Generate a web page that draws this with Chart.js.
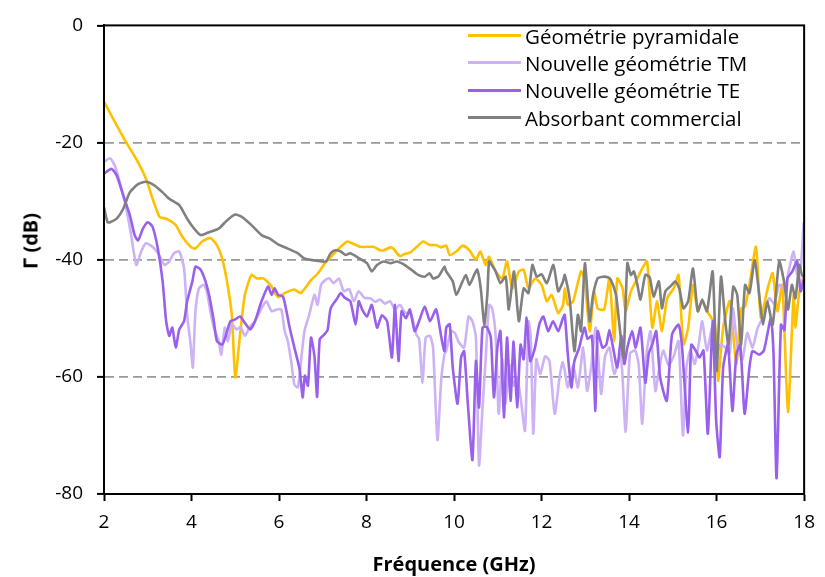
<!DOCTYPE html>
<html>
<head>
<meta charset="utf-8">
<script src="https://cdn.jsdelivr.net/npm/chart.js@4.4.1/dist/chart.umd.min.js"></script>
<style>
  body { margin: 0; background: #fff; }
  #wrap { position: relative; width: 825px; height: 577px; }
  #legend { position: absolute; left: 468px; top: 22px; font-family: 'Open Sans', sans-serif; font-size: 20.5px; color: #000; }
  .row { display: flex; align-items: center; height: 27.3px; white-space: nowrap; }
  .swatch { width: 53px; height: 3px; margin-right: 4px; }
  #ytitle { position: absolute; left: 30px; top: 241px; transform: translate(-50%, -50%) rotate(-90deg);
            font-family: 'Open Sans', sans-serif; font-size: 20px; font-weight: bold; white-space: nowrap; color: #000; }
</style>
</head>
<body>
<div id="wrap">
  <canvas id="chart" width="825" height="577"></canvas>
  <div id="legend"></div>
  <div id="ytitle">Γ (dB)</div>
</div>
<script>
// axis ticks
const xTicks = [2, 4, 6, 8, 10, 12, 14, 16, 18];
const yTicks = [0, -20, -40, -60, -80];

const seriesNames = ['Géométrie pyramidale', 'Nouvelle géométrie TM', 'Nouvelle géométrie TE', 'Absorbant commercial'];
const seriesColors = ['#FFC000', '#CDB3F5', '#9960EC', '#808080'];

// Géométrie pyramidale (GHz / dB)
const pyrFreq = [2.0, 2.25, 2.51, 2.75, 2.96, 3.11, 3.27, 3.42, 3.64, 3.79, 3.98, 4.09, 4.24, 4.43, 4.58, 4.70, 4.81, 4.92, 5.0, 5.11,
  5.22, 5.37, 5.49, 5.64, 5.83, 5.98, 6.13, 6.35, 6.50, 6.73, 6.88, 7.03, 7.15, 7.26, 7.41, 7.56, 7.7, 7.86, 8.01, 8.16,
  8.31, 8.39, 8.54, 8.61, 8.76, 8.88, 8.99, 9.15, 9.29, 9.45, 9.59, 9.70, 9.82, 9.9, 10.05, 10.2, 10.35, 10.5, 10.6, 10.72,
  10.8, 10.95, 11.1, 11.21, 11.33, 11.48, 11.59, 11.7, 11.85, 12.0, 12.12, 12.23, 12.38, 12.49, 12.53, 12.6, 12.72, 12.9, 12.98, 13.1,
  13.2, 13.28, 13.43, 13.55, 13.66, 13.73, 13.85, 13.92, 14.04, 14.19, 14.3, 14.41, 14.53, 14.64, 14.75, 14.87, 15.02, 15.13, 15.24, 15.35,
  15.46, 15.57, 15.67, 15.8, 15.96, 16.03, 16.15, 16.3, 16.45, 16.56, 16.65, 16.75, 16.9, 17.01, 17.16, 17.28, 17.39, 17.5, 17.63, 17.76,
  17.8, 17.88, 17.97, 18.0];
const pyrGamma = [-13, -16.5, -20, -23, -26.2, -29.6, -32.7, -33, -34.1, -36.1, -37.8, -38.1, -36.9, -36.3, -37.5, -39.8, -43.7, -49.4, -60.1, -52.7,
  -46, -42.6, -43.2, -43.2, -44.6, -46.4, -45.7, -45.1, -45.7, -43.5, -42.4, -40.8, -39.8, -38.9, -37.8, -36.9, -37.3, -37.8, -37.8, -37.8,
  -38.4, -38.4, -37.9, -38.1, -39.4, -39, -38.8, -37.8, -36.9, -37.5, -37.5, -37.9, -37.6, -39.2, -38.6, -37.6, -38.4, -40, -38.6, -40.9,
  -39.5, -42, -43.2, -40.3, -44.9, -42, -41.7, -44.9, -43.2, -44.3, -47.1, -46, -49.1, -47.7, -44.9, -47.7, -47.1, -42, -43.2, -52.2,
  -45.4, -48.3, -48.5, -43.2, -53.9, -43.2, -44.9, -48.8, -45.4, -43.2, -41.5, -40.3, -51.6, -47.1, -52.2, -46.6, -44.9, -42.6, -54.5, -51.6,
  -44.3, -48.8, -47.1, -49, -51.1, -60.7, -51.6, -47.1, -57.8, -48.3, -48, -44.3, -37.8, -49.9, -45.1, -42.3, -48.8, -44.3, -66, -46,
  -51.6, -46, -43.2, -44];

// Nouvelle géométrie TM
const tmFreq = [2.0, 2.14, 2.25, 2.36, 2.51, 2.62, 2.74, 2.85, 2.96, 3.11, 3.26, 3.38, 3.49, 3.6, 3.72, 3.83, 3.9, 3.98, 4.03, 4.09,
  4.17, 4.28, 4.35, 4.43, 4.51, 4.62, 4.68, 4.76, 4.83, 4.92, 5.03, 5.12, 5.22, 5.33, 5.45, 5.6, 5.71, 5.83, 5.95, 6.05,
  6.13, 6.2, 6.28, 6.35, 6.43, 6.5, 6.58, 6.69, 6.81, 6.88, 6.96, 7.07, 7.15, 7.25, 7.37, 7.48, 7.6, 7.71, 7.82, 7.95,
  8.09, 8.2, 8.31, 8.42, 8.54, 8.65, 8.76, 8.88, 9.02, 9.14, 9.2, 9.28, 9.35, 9.45, 9.52, 9.62, 9.71, 9.78, 9.82, 9.93,
  10.02, 10.1, 10.23, 10.33, 10.42, 10.5, 10.57, 10.65, 10.72, 10.8, 10.87, 10.95, 11.02, 11.1, 11.17, 11.27, 11.36, 11.44, 11.52, 11.62,
  11.7, 11.75, 11.81, 11.88, 11.97, 12.08, 12.18, 12.3, 12.41, 12.48, 12.53, 12.6, 12.72, 12.83, 12.95, 13.04, 13.13, 13.24, 13.36, 13.45,
  13.55, 13.66, 13.81, 13.92, 14.02, 14.14, 14.22, 14.3, 14.4, 14.49, 14.6, 14.68, 14.78, 14.9, 15.02, 15.13, 15.23, 15.31, 15.4, 15.5,
  15.6, 15.67, 15.78, 15.9, 15.99, 16.08, 16.2, 16.3, 16.37, 16.48, 16.59, 16.7, 16.82, 16.94, 17.09, 17.2, 17.32, 17.43, 17.55, 17.66,
  17.76, 17.84, 17.92, 17.99];
const tmGamma = [-23.3, -22.7, -24, -26.8, -31.3, -35.8, -40.9, -38.6, -37.2, -37.8, -39.2, -40.9, -40.3, -38.9, -38.6, -41.5, -49.4, -54.5, -58.4, -48.8,
  -44.9, -44.3, -45.4, -48.8, -51.6, -53.9, -56.2, -51.6, -53.9, -51.1, -51.9, -51.5, -53, -51.5, -50.5, -48.3, -47.1, -48.8, -48.5, -48.5,
  -52.2, -53.9, -57.5, -61.3, -61.8, -57.5, -52.2, -49.4, -46, -47.7, -44.3, -43.4, -43.2, -44, -43.2, -45.4, -45, -47.1, -45.4, -46.5,
  -46.6, -47.2, -46.8, -47.5, -47.1, -48.5, -47.7, -49, -49.4, -52.8, -53.5, -61, -53.3, -53, -55, -70.8, -60.1, -56.2, -55.6, -52.2,
  -52.5, -54, -55, -49.7, -50.5, -53.3, -75.1, -65.2, -57.3, -47.7, -48.3, -53, -66.3, -57, -64.6, -58, -61.5, -60.1, -63.5, -69.2,
  -50.5, -53, -69.7, -57, -59.5, -56.5, -57.3, -66.3, -60.1, -57.5, -59, -61.8, -58, -61.8, -55, -62.4, -58.5, -51.6, -62.9, -56.5,
  -55, -59.5, -56.2, -69.4, -56, -55.5, -58, -68, -56, -52.2, -62.4, -59, -55.5, -58, -56.5, -53.9, -70, -58.4, -55.5, -57.8,
  -54, -50.5, -55.5, -51.6, -57.3, -54.5, -55, -56, -48.3, -55, -57, -52.5, -55, -51.6, -49.4, -46.6, -47.5, -44.3, -45, -41.5,
  -38.6, -42.5, -41.5, -33.6];

// Nouvelle géométrie TE
const teFreq = [2.0, 2.17, 2.29, 2.44, 2.59, 2.7, 2.78, 2.89, 3.0, 3.11, 3.23, 3.34, 3.42, 3.49, 3.56, 3.64, 3.72, 3.83, 3.9, 4.02,
  4.09, 4.21, 4.32, 4.4, 4.51, 4.58, 4.7, 4.77, 4.89, 5.0, 5.11, 5.22, 5.34, 5.45, 5.6, 5.75, 5.83, 5.9, 5.98, 6.09,
  6.17, 6.24, 6.35, 6.47, 6.54, 6.59, 6.66, 6.73, 6.81, 6.87, 6.93, 7.03, 7.11, 7.18, 7.33, 7.41, 7.5, 7.63, 7.75, 7.82,
  7.9, 8.01, 8.12, 8.24, 8.35, 8.47, 8.58, 8.65, 8.73, 8.8, 8.9, 8.99, 9.1, 9.2, 9.33, 9.45, 9.59, 9.71, 9.78, 9.82,
  9.9, 9.97, 10.08, 10.16, 10.23, 10.31, 10.42, 10.5, 10.57, 10.65, 10.75, 10.84, 10.91, 10.99, 11.06, 11.14, 11.21, 11.29, 11.36, 11.44,
  11.52, 11.59, 11.66, 11.74, 11.85, 11.95, 12.04, 12.15, 12.26, 12.38, 12.49, 12.53, 12.6, 12.68, 12.75, 12.86, 12.98, 13.05, 13.15, 13.23,
  13.28, 13.39, 13.48, 13.55, 13.62, 13.73, 13.82, 13.89, 13.96, 14.07, 14.15, 14.26, 14.37, 14.45, 14.53, 14.62, 14.71, 14.86, 14.98, 15.13,
  15.21, 15.35, 15.42, 15.52, 15.61, 15.7, 15.8, 15.91, 15.99, 16.07, 16.15, 16.26, 16.36, 16.45, 16.54, 16.64, 16.75, 16.82, 16.97, 17.08,
  17.24, 17.3, 17.37, 17.47, 17.55, 17.62, 17.73, 17.84, 17.92, 18.0];
const teGamma = [-25.3, -24.5, -25.6, -29, -32.4, -35.8, -36.7, -34.7, -33.6, -34.4, -38.1, -43.7, -50.5, -53, -51.6, -55, -51.9, -50.5, -47.1, -43.7,
  -41.2, -41.7, -43.7, -46, -50.5, -53.9, -54.5, -53.3, -50.5, -50.2, -49.7, -50.8, -51.9, -50.5, -47.1, -44.6, -46, -44.9, -46, -46.3,
  -48.8, -51.5, -55, -58.7, -63.5, -59.8, -61.5, -53.3, -56.5, -63.4, -53.6, -52.8, -52, -48.3, -46.6, -45.7, -46.5, -47.1, -51.1, -47.1,
  -48.5, -49.7, -47.7, -51.6, -49.5, -50.5, -56.7, -47.7, -57.3, -48.8, -50, -48.5, -52.2, -50.5, -48, -50.5, -48.5, -53.3, -55.6, -51.6,
  -51, -58.4, -64.6, -56.7, -55.6, -64.1, -74.2, -57.3, -65.2, -51.6, -51.5, -53.3, -63.5, -55, -52.2, -66.9, -53.3, -64.1, -54, -65.2,
  -54.5, -57, -49.9, -57.3, -55, -51, -49.7, -52.2, -50.5, -52.2, -49.9, -49.4, -56.2, -61.8, -57.3, -55, -51.6, -53.5, -53, -65.8,
  -52.2, -55, -54.5, -52, -54.5, -58.4, -53, -57.8, -55, -52.2, -55, -51.6, -61, -56, -54.5, -52.2, -60.1, -64.1, -52.8, -51.1,
  -55, -69.5, -54.5, -55.5, -56.7, -55.5, -69.7, -50.5, -67.5, -73.7, -58.4, -54.5, -65.8, -56.2, -54.5, -66.3, -58.4, -55.6, -56.2, -55.5,
  -50, -56, -77.3, -51.1, -52, -43.2, -42, -40.3, -45.4, -43.2];

// Absorbant commercial
const comFreq = [2.0, 2.08, 2.14, 2.29, 2.44, 2.59, 2.78, 2.96, 3.15, 3.34, 3.49, 3.72, 3.9, 4.06, 4.21, 4.4, 4.62, 4.81, 5.0, 5.15,
  5.37, 5.6, 5.79, 5.98, 6.2, 6.43, 6.58, 6.88, 7.07, 7.18, 7.29, 7.41, 7.52, 7.63, 7.86, 8.01, 8.12, 8.24, 8.39, 8.55,
  8.69, 8.85, 9.02, 9.18, 9.33, 9.44, 9.52, 9.65, 9.78, 9.82, 9.97, 10.05, 10.16, 10.27, 10.35, 10.46, 10.53, 10.61, 10.69, 10.76,
  10.8, 10.87, 10.95, 11.06, 11.18, 11.25, 11.37, 11.48, 11.59, 11.7, 11.79, 11.89, 12.0, 12.12, 12.27, 12.38, 12.49, 12.53, 12.64, 12.75,
  12.83, 12.9, 12.99, 13.1, 13.17, 13.28, 13.4, 13.51, 13.58, 13.7, 13.77, 13.87, 13.96, 14.04, 14.11, 14.19, 14.26, 14.37, 14.47, 14.56,
  14.68, 14.75, 14.83, 14.95, 15.06, 15.15, 15.24, 15.35, 15.46, 15.57, 15.67, 15.78, 15.91, 16.0, 16.1, 16.19, 16.27, 16.38, 16.47, 16.56,
  16.65, 16.75, 16.87, 16.99, 17.06, 17.16, 17.28, 17.43, 17.54, 17.63, 17.72, 17.8, 17.89, 17.95, 18.0];
const comGamma = [-31, -33.6, -33.6, -33, -31.3, -28.5, -27.1, -26.7, -27.3, -28.5, -29.6, -30.7, -33, -34.7, -35.8, -35.3, -34.7, -33.3, -32.3, -32.7,
  -34.1, -35.8, -36.4, -37.4, -38.1, -38.9, -39.8, -40.2, -40.3, -38.9, -38.4, -38.6, -39.2, -38.9, -39.9, -40.6, -42, -40.9, -40.3, -40.6,
  -40.3, -40.8, -41.7, -42.6, -42.9, -42.3, -43.2, -42.8, -41.2, -42, -43.7, -46, -44.3, -42.6, -44.3, -42.6, -41.7, -44.9, -51.1, -46,
  -40.3, -41, -42, -44, -42.9, -48.5, -42, -50.5, -44.9, -45.7, -40.9, -42.9, -42.5, -44, -40.9, -45.4, -43.7, -42.6, -46.6, -55.6,
  -49.4, -52.2, -40.6, -50.5, -46.3, -43.2, -42.9, -43, -43.4, -46, -50.5, -56.7, -40.6, -42.6, -42, -44.3, -46.8, -42.6, -43, -46.3,
  -43.7, -48.3, -45.4, -44.5, -43.7, -45, -48.3, -47.1, -41.5, -48.8, -46.8, -48.8, -42, -59, -42.9, -49.9, -54.5, -44.6, -46, -54.5,
  -44.3, -45.7, -40.1, -47.1, -51.1, -47.1, -51.1, -40.3, -43.7, -48.5, -44.3, -46.6, -40.9, -42.6, -43];

const freqs = [pyrFreq, tmFreq, teFreq, comFreq];
const gammas = [pyrGamma, tmGamma, teGamma, comGamma];
// later series sit on top, as in the original
const drawOrder = [3, 2, 1, 0];

const datasets = seriesNames.map((name, i) => ({
  label: name,
  data: freqs[i].map((f, j) => ({ x: f, y: gammas[i][j] })),
  borderColor: seriesColors[i],
  backgroundColor: seriesColors[i],
  borderWidth: 2.6,
  pointRadius: 0,
  tension: 0.2,
  fill: false,
  order: drawOrder[i]
}));

// black frame around the plot area
const frame = {
  id: 'frame',
  afterDatasetsDraw(chart) {
    const a = chart.chartArea;
    const ctx = chart.ctx;
    ctx.save();
    ctx.strokeStyle = '#000';
    ctx.lineWidth = 2;
    ctx.strokeRect(a.left, a.top, a.right - a.left, a.bottom - a.top);
    ctx.restore();
  }
};

const font = { family: "'Open Sans', sans-serif", size: 19 };
const titleFont = { family: "'Open Sans', sans-serif", size: 20, weight: 'bold' };

new Chart(document.getElementById('chart'), {
  type: 'line',
  data: { datasets },
  plugins: [frame],
  options: {
    responsive: false,
    animation: false,
    layout: { padding: { top: 22, right: 13, left: 0, bottom: 0 } },
    plugins: { legend: { display: false }, tooltip: { enabled: false } },
    scales: {
      x: {
        type: 'linear',
        min: xTicks[0],
        max: xTicks[xTicks.length - 1],
        afterBuildTicks: s => { s.ticks = xTicks.map(v => ({ value: v })); },
        afterFit: s => { s.height = 83; },
        ticks: { color: '#000', font, padding: 10, maxRotation: 0 },
        grid: { drawOnChartArea: false, tickLength: 7, tickColor: '#000', tickWidth: 2 },
        border: { color: '#000', width: 2 },
        title: { display: true, text: 'Fréquence (GHz)', color: '#000', font: titleFont, padding: { top: 0, bottom: 0 } }
      },
      y: {
        min: -80,
        max: 0,
        afterBuildTicks: s => { s.ticks = yTicks.map(v => ({ value: v })); },
        afterFit: s => { s.width = 104; },
        ticks: { color: '#000', font, padding: 14 },
        grid: {
          color: c => (c.tick && (c.tick.value === 0 || c.tick.value === -80)) ? 'rgba(0,0,0,0)' : '#999',
          lineWidth: 1.8,
          tickLength: 7,
          tickColor: '#000',
          tickWidth: 2
        },
        border: { color: '#000', width: 2, dash: [9, 5] }
      }
    }
  }
});

// legend as html, drawn over the plot area
const legend = document.getElementById('legend');
seriesNames.forEach((name, i) => {
  const row = document.createElement('div');
  row.className = 'row';
  const sw = document.createElement('span');
  sw.className = 'swatch';
  sw.style.background = seriesColors[i];
  const txt = document.createElement('span');
  txt.textContent = name;
  row.appendChild(sw);
  row.appendChild(txt);
  legend.appendChild(row);
});
</script>
</body>
</html>
